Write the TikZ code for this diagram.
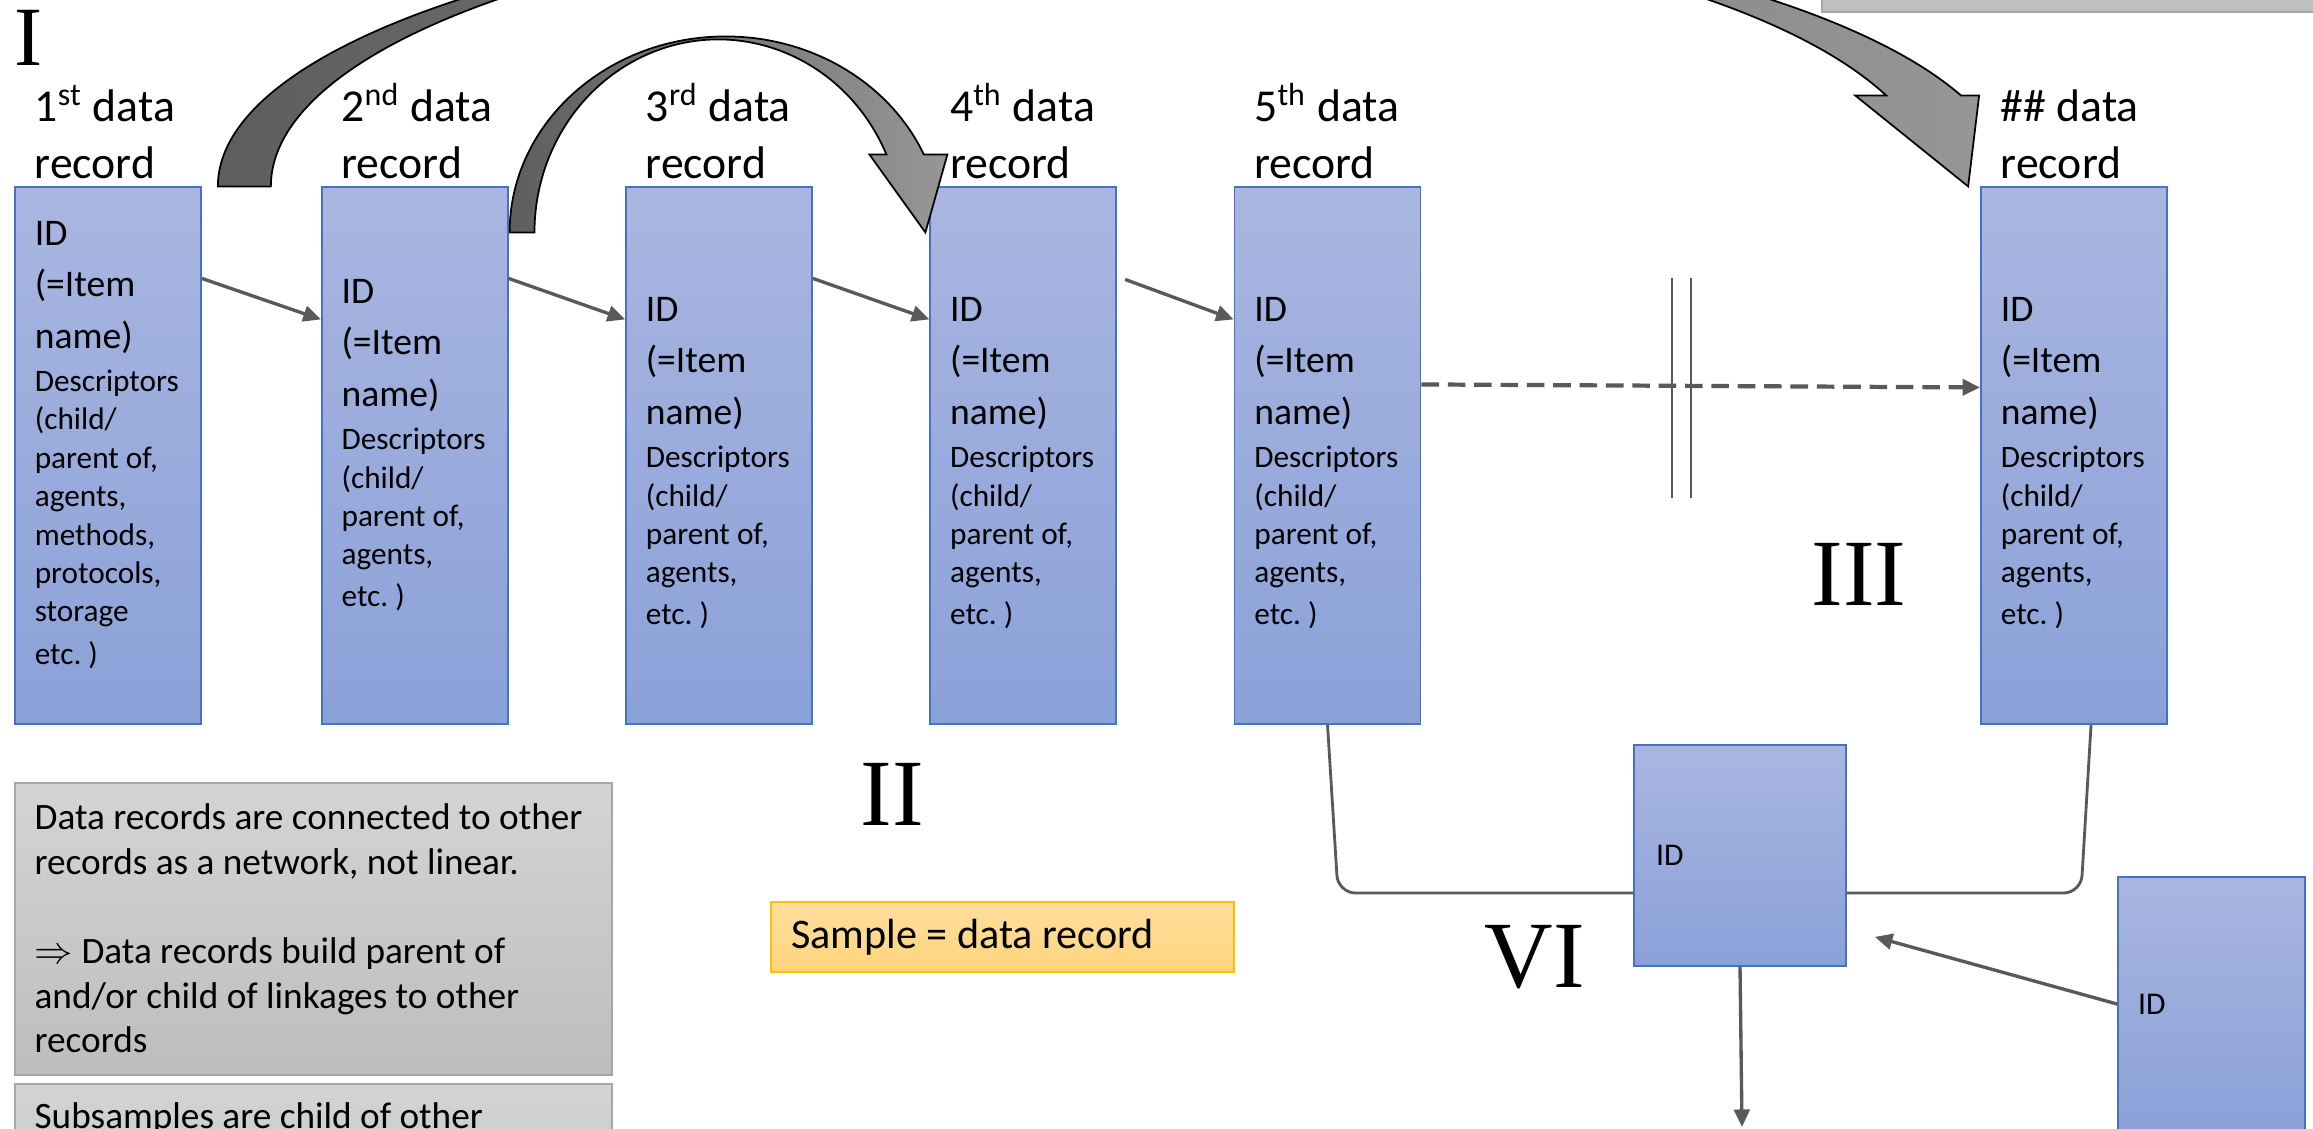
\documentclass[tikz,border=0pt]{standalone}
\usepackage{fontspec}
\setmainfont{Carlito}
\newfontfamily\numfont{Liberation Serif}
\usetikzlibrary{positioning, arrows.meta}
\frenchspacing

\definecolor{rectop}{HTML}{A9B6E0}
\definecolor{recbot}{HTML}{8AA1D8}
\definecolor{recline}{HTML}{4472C4}
\definecolor{notetop}{HTML}{D4D4D4}
\definecolor{notebot}{HTML}{BDBDBD}
\definecolor{noteline}{HTML}{A6A6A6}
\definecolor{sampletop}{HTML}{FFDE9E}
\definecolor{samplebot}{HTML}{FFD47C}
\definecolor{sampleline}{HTML}{FFC000}
\definecolor{linkgray}{HTML}{595959}
\definecolor{arrdark}{HTML}{5E5E5E}
\definecolor{arrlight}{HTML}{969696}

\newcommand{\recbig}{\fontsize{10.7}{14.74}\selectfont}
\newcommand{\recsmall}{\fontsize{8.9}{10.92}\selectfont}
\newcommand{\recordtext}[1]{\recbig ID\\(=Item\\name)\par\vspace{1.3pt}\recsmall Descriptors\\(child/\\parent of,\\agents,\\#1etc. )}

\begin{document}
\begin{tikzpicture}[
    record/.style={draw=recline, line width=0.5pt, top color=rectop, bottom color=recbot, minimum width=1.86cm, minimum height=5.37cm, inner sep=0pt},
    rectitle/.style={inner sep=0pt, text width=2.6cm, align=flush left, font=\fontsize{13}{16.3}\selectfont},
    rectext/.style={inner sep=0pt, text width=1.7cm, align=flush left},
    idbox/.style={draw=recline, line width=0.5pt, top color=rectop, bottom color=recbot, inner xsep=0.22cm, inner ysep=0pt, align=flush left, font=\fontsize{9}{11}\selectfont},
    note/.style={draw=noteline, line width=0.6pt, top color=notetop, bottom color=notebot, minimum width=5.97cm, inner sep=0pt},
    notetext/.style={inner sep=0pt, align=flush left, font=\fontsize{10.6}{12.7}\selectfont},
    sample/.style={draw=sampleline, line width=0.6pt, top color=sampletop, bottom color=samplebot, inner xsep=0.2cm, inner ysep=0pt, text width=4.23cm, minimum height=0.7cm, align=flush left, font=\fontsize{12}{14}\selectfont},
    numeral/.style={inner sep=0pt, font=\numfont\fontsize{27}{27}\selectfont},
    link/.style={draw=linkgray, line width=0.95pt, -{Triangle[length=5pt, width=4.5pt]}},
    dashlink/.style={link, line width=1.2pt, dash pattern=on 5pt off 2.5pt},
    bracket/.style={draw=linkgray, line width=0.8pt, rounded corners=5pt},
    bar/.style={draw=linkgray, line width=0.6pt},
    bigarrow/.style={draw=black, line width=0.5pt, left color=arrdark, right color=arrlight},
]
    \useasboundingbox (0,0) rectangle (23.13,-11.28);
    \clip (0,0) rectangle (23.13,-11.28);

    % Nodes
    \node[note, minimum width=5.4cm, minimum height=1.12cm] (note3) at (20.92,0.44) {};

    \node[record] (rec1) at (1.08,-4.558) {};
    \node[record, right=1.19cm of rec1] (rec2) {};
    \node[record, right=1.165cm of rec2] (rec3) {};
    \node[record, right=1.165cm of rec3] (rec4) {};
    \node[record, right=1.165cm of rec4] (rec5) {};
    \node[record] (recN) at (20.74,-4.558) {};

    \node[rectitle, above right=0.07cm and 0.2cm of rec1.north west] (tit1) {1\textsuperscript{st} data\\record};
    \node[rectitle, above right=0.07cm and 0.2cm of rec2.north west] (tit2) {2\textsuperscript{nd} data\\record};
    \node[rectitle, above right=0.07cm and 0.2cm of rec3.north west] (tit3) {3\textsuperscript{rd} data\\record};
    \node[rectitle, above right=0.07cm and 0.2cm of rec4.north west] (tit4) {4\textsuperscript{th} data\\record};
    \node[rectitle, above right=0.07cm and 0.2cm of rec5.north west] (tit5) {5\textsuperscript{th} data\\record};
    \node[rectitle, above right=0.07cm and 0.2cm of recN.north west] (titN) {\#\# data\\record};

    \node[rectext, below right=0.338cm and 0.2cm of rec1.north west] (txt1) {\recordtext{methods,\\protocols,\\storage\\}};
    \node[rectext, below right=0.918cm and 0.2cm of rec2.north west] (txt2) {\recordtext{}};
    \node[rectext, below right=1.098cm and 0.2cm of rec3.north west] (txt3) {\recordtext{}};
    \node[rectext, below right=1.098cm and 0.2cm of rec4.north west] (txt4) {\recordtext{}};
    \node[rectext, below right=1.098cm and 0.2cm of rec5.north west] (txt5) {\recordtext{}};
    \node[rectext, below right=1.098cm and 0.2cm of recN.north west] (txtN) {\recordtext{}};

    \node[note, minimum height=2.92cm] (note1) at (3.135,-9.29) {};
    \node[notetext, below right=0.21cm and 0.2cm of note1.north west] (note1txt) {Data records are connected to other\\records as a network, not linear.\\[12.7pt]$\Rightarrow$ Data records build parent of\\and/or child of linkages to other\\records};
    \node[note, minimum height=2.0cm] (note2) at (3.135,-11.84) {};
    \node[notetext, below right=0.19cm and 0.2cm of note2.north west] (note2txt) {Subsamples are child of other};

    \node[sample] (sample) at (10.025,-9.37) {Sample = data record};

    \node[idbox, text width=1.68cm, minimum height=2.21cm] (vi) at (17.40,-8.555) {ID};
    \node[idbox, text width=1.47cm, inner xsep=0.2cm, minimum height=2.54cm] (subrec) at (22.115,-10.04) {ID};

    \node[numeral, font=\numfont\fontsize{24}{24}\selectfont] (numI) at (0.285,-0.375) {I};
    \node[numeral] (numII) at (8.925,-7.945) {II};
    \node[numeral] (numIII) at (18.59,-5.74) {III};
    \node[numeral] (numVI) at (15.35,-9.57) {VI};

    \coordinate (bendL) at (13.38,-8.93);
    \coordinate (bendR) at (20.81,-8.93);
    \coordinate (exit) at (17.42,-11.27);

    % Arrows
    \draw[link] ([yshift=-0.92cm]rec1.north east) -- ([yshift=-1.33cm]rec2.north west);
    \draw[link] ([yshift=-0.92cm]rec2.north east) -- ([yshift=-1.33cm]rec3.north west);
    \draw[link] ([yshift=-0.92cm]rec3.north east) -- ([yshift=-1.33cm]rec4.north west);
    \draw[link] ([shift={(0.08cm,-0.93cm)}]rec4.north east) -- ([yshift=-1.33cm]rec5.north west);
    \draw[dashlink] ([yshift=-1.98cm]rec5.north east) -- ([yshift=-2.01cm]recN.north west);
    \foreach \x in {16.72,16.91}
        \draw[bar] (\x,-2.78) -- (\x,-4.98);

    \draw[bracket] (rec5.south) -- (bendL) -- ([yshift=-0.375cm]vi.west);
    \draw[bracket] ([yshift=-0.375cm]vi.east) -- (bendR) -- ([xshift=0.17cm]recN.south);
    \draw[link] (vi.south) -- (exit);
    \draw[link] (subrec.west) -- ([shift={(0.28cm,0.3cm)}]vi.south east);

    \draw[bigarrow] ([xshift=0.16cm]rec1.north east)
        arc[start angle=180, end angle=19.4, x radius=8.97cm, y radius=2.74cm]
        -- ([shift={(-0.01cm,0.91cm)}]recN.north west)
        -- ([xshift=-0.12cm]recN.north west)
        -- ([shift={(-1.25cm,0.91cm)}]recN.north west)
        -- ([shift={(-0.94cm,0.91cm)}]recN.north west)
        arc[start angle=19.5, end angle=180, x radius=8.315cm, y radius=2.727cm]
        -- cycle;
    \draw[bigarrow] ([shift={(0.01cm,-0.46cm)}]rec2.north east)
        arc[start angle=180, end angle=23.45, x radius=2.16cm, y radius=1.96cm]
        -- ([shift={(0.18cm,0.32cm)}]rec4.north west)
        -- ([shift={(-0.04cm,-0.46cm)}]rec4.north west)
        -- ([shift={(-0.60cm,0.32cm)}]rec4.north west)
        -- ([shift={(-0.43cm,0.32cm)}]rec4.north west)
        arc[start angle=23.84, end angle=180, x radius=1.838cm, y radius=1.93cm]
        -- cycle;
\end{tikzpicture}
\end{document}
